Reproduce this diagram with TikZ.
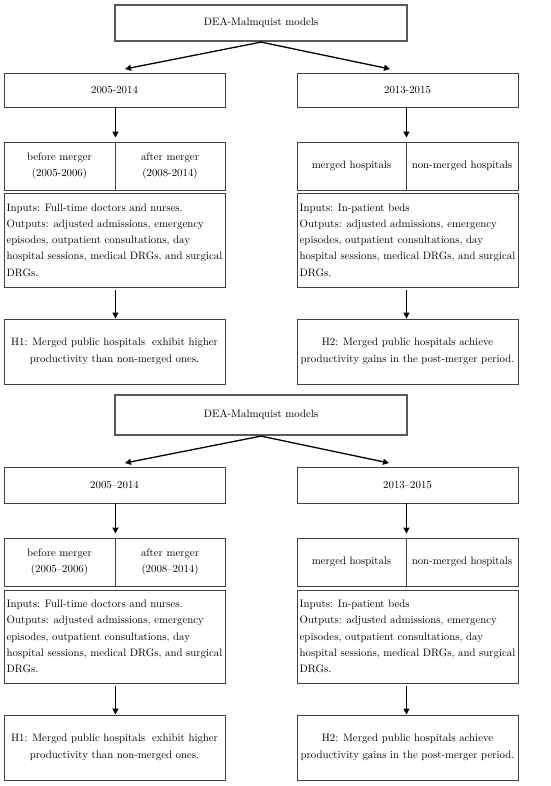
\documentclass[tikz,border=0pt]{standalone}
\usetikzlibrary{arrows.meta,calc}
\newcommand\fs{\fontsize{10.8}{16.3}\selectfont}
\newcommand\bx[7]{\node[#6,minimum width={#4-#2},minimum height={#5-#3}] (#1) at ({(#2+#4)/2},{(#3+#5)/2}) {#7};}
\tikzset{
  box/.style={draw=black!75, line width=0.9pt, inner sep=0pt, align=center, font=\fs, text=black},
  topbox/.style={box, draw=black!65, line width=2.2pt},
  txtbox/.style={box, align=left},
  arr/.style={line width=1.3pt, black, -{Triangle[length=6pt,width=6pt]}},
}
\begin{document}
\begin{tikzpicture}[x=1pt,y=-1pt]
\useasboundingbox (0,0) rectangle (550,786);
% ---------- top diagram ----------
\bx{dea1}{115}{5}{407}{41}{topbox}{DEA-Malmquist models}
\bx{a1}{4}{73}{225}{107}{box}{2005-2014}
\bx{b1}{297}{73}{518}{107}{box}{2013-2015}
\bx{sl1}{4}{142}{115}{190}{box}{before merger\\(2005-2006)}
\bx{sr1}{115}{142}{225}{190}{box}{after merger\\(2008-2014)}
\bx{tl1}{297}{142}{406}{190}{box}{merged hospitals}
\bx{tr1}{406}{142}{518}{190}{box}{non-merged hospitals}
\bx{il1}{4}{193}{225}{287}{txtbox}{Inputs: Full-time doctors and nurses.\\Outputs: adjusted admissions, emergency\\episodes, outpatient consultations, day\\hospital sessions, medical DRGs, and surgical\\DRGs.}
\bx{ir1}{297}{193}{518}{287}{txtbox}{Inputs: In-patient beds\\Outputs: adjusted admissions, emergency\\episodes, outpatient consultations, day\\hospital sessions, medical DRGs, and surgical\\DRGs.}
\bx{hl1}{4}{319}{225}{384}{box}{H1: Merged public hospitals\ \ exhibit higher\\productivity than non-merged ones.}
\bx{hr1}{297}{319}{518}{384}{box}{H2: Merged public hospitals achieve\\productivity gains in the post-merger period.}
\coordinate (ta1) at (125,69);
\coordinate (tb1) at (390,69);
\draw[arr] (dea1.south) -- (ta1);
\draw[arr] (dea1.south) -- (tb1);
\draw[arr, shorten >=4pt] (sl1.north east |- a1.south) -- (sl1.north east);
\draw[arr, shorten >=4pt] (tl1.north east |- b1.south) -- (tl1.north east);
\draw[arr, shorten <=3pt] (sl1.north east |- il1.south) -- (sl1.north east |- hl1.north);
\draw[arr, shorten <=3pt] (tl1.north east |- ir1.south) -- (tl1.north east |- hr1.north);
% ---------- bottom diagram ----------
\bx{dea2}{115}{395}{407}{435}{topbox}{DEA-Malmquist models}
\bx{a2}{4}{467}{225}{503}{box}{2005--2014}
\bx{b2}{297}{467}{518}{503}{box}{2013--2015}
\bx{sl2}{4}{538}{115}{586}{box}{before merger\\(2005--2006)}
\bx{sr2}{115}{538}{225}{586}{box}{after merger\\(2008--2014)}
\bx{tl2}{297}{538}{406}{586}{box}{merged hospitals}
\bx{tr2}{406}{538}{518}{586}{box}{non-merged hospitals}
\bx{il2}{4}{590}{225}{683}{txtbox}{Inputs: Full-time doctors and nurses.\\Outputs: adjusted admissions, emergency\\episodes, outpatient consultations, day\\hospital sessions, medical DRGs, and surgical\\DRGs.}
\bx{ir2}{297}{590}{518}{683}{txtbox}{Inputs: In-patient beds\\Outputs: adjusted admissions, emergency\\episodes, outpatient consultations, day\\hospital sessions, medical DRGs, and surgical\\DRGs.}
\bx{hl2}{4}{715}{225}{780}{box}{H1: Merged public hospitals\ \ exhibit higher\\productivity than non-merged ones.}
\bx{hr2}{297}{715}{518}{780}{box}{H2: Merged public hospitals achieve\\productivity gains in the post-merger period.}
\coordinate (ta2) at (125,463);
\coordinate (tb2) at (389,463);
\draw[arr] (dea2.south) -- (ta2);
\draw[arr] (dea2.south) -- (tb2);
\draw[arr, shorten >=4pt] (sl2.north east |- a2.south) -- (sl2.north east);
\draw[arr, shorten >=4pt] (tl2.north east |- b2.south) -- (tl2.north east);
\draw[arr, shorten <=3pt] (sl2.north east |- il2.south) -- (sl2.north east |- hl2.north);
\draw[arr, shorten <=3pt] (tl2.north east |- ir2.south) -- (tl2.north east |- hr2.north);
\end{tikzpicture}
\end{document}
